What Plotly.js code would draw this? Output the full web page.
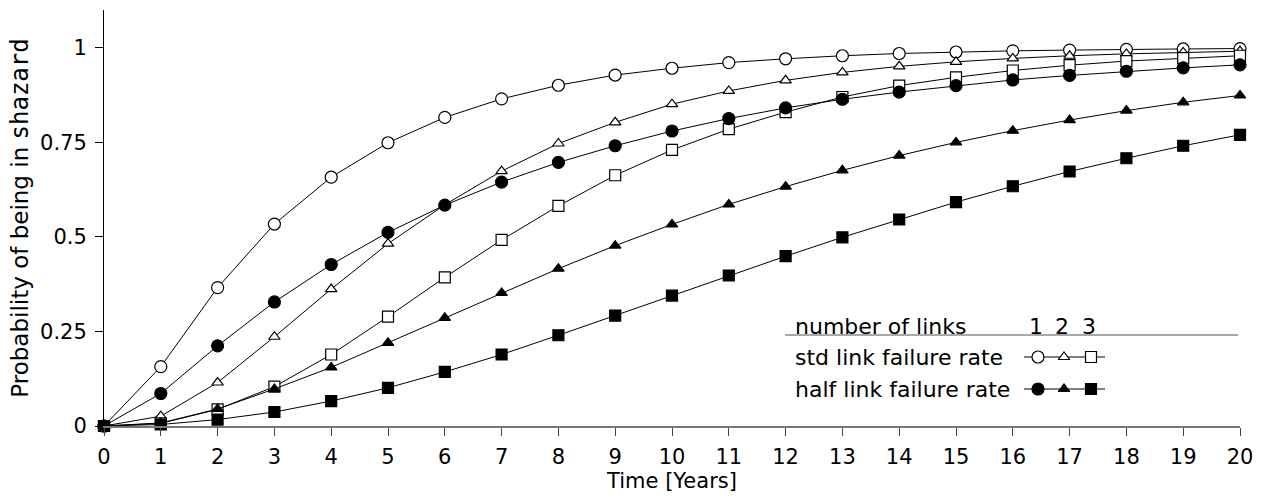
<!DOCTYPE html>
<html>
<head>
<meta charset="utf-8">
<script src="https://cdn.plot.ly/plotly-3.0.1.min.js"></script>
<style>html,body{margin:0;padding:0;background:#fff;}#chart{width:1261px;height:502px;}</style>
</head>
<body>
<div id="chart"></div>
<script>
// ---- data ----
const years = [0,1,2,3,4,5,6,7,8,9,10,11,12,13,14,15,16,17,18,19,20];

const std1  = [0,0.157,0.366,0.534,0.658,0.749,0.816,0.865,0.901,0.928,0.946,0.961,0.971,0.979,0.985,0.989,0.992,0.994,0.996,0.997,0.998];
const std2  = [0,0.026,0.115,0.236,0.362,0.482,0.585,0.674,0.747,0.803,0.851,0.886,0.914,0.935,0.951,0.963,0.972,0.979,0.984,0.988,0.991];
const std3  = [0,0.007,0.044,0.104,0.189,0.289,0.393,0.492,0.582,0.663,0.730,0.785,0.830,0.870,0.900,0.922,0.940,0.954,0.965,0.973,0.979];
const half1 = [0,0.086,0.212,0.328,0.427,0.512,0.584,0.645,0.697,0.741,0.780,0.813,0.841,0.864,0.883,0.900,0.915,0.927,0.938,0.947,0.955];
const half2 = [0,0.008,0.045,0.098,0.155,0.220,0.286,0.352,0.416,0.477,0.533,0.586,0.633,0.676,0.715,0.750,0.781,0.809,0.834,0.856,0.874];
const half3 = [0,0.004,0.017,0.037,0.066,0.101,0.143,0.189,0.240,0.292,0.345,0.398,0.449,0.499,0.546,0.592,0.634,0.673,0.708,0.741,0.770];

const yTickVals  = [0,0.25,0.5,0.75,1];
const yTickText  = ['0','0.25','0.5','0.75','1'];
const xTitle = 'Time [Years]';
const yTitle = 'Probability of being in <span style="font-family:\'DejaVu Sans Mono\',monospace;font-size:24px;">shazard</span>';

const legendHeader = 'number of links';
const legendCounts = ['1','2','3'];
const legendRows   = ['std link failure rate','half link failure rate'];

// ---- styling ----
const FONT = 'DejaVu Sans, sans-serif';
const FS = 21;
const LFS = 22;
const lineStyle = {color:'#000', width:1};
function mk(sym, filled, size){
  return {symbol:sym, size:size, color: filled ? '#000' : '#fff', opacity:1, line:{color:'#000', width:1.2}};
}
const series = [
  {y:std1,  m:mk('circle',false,12)},
  {y:std2,  m:mk('triangle-up',false,10)},
  {y:std3,  m:mk('square',false,11)},
  {y:half1, m:mk('circle',true,12)},
  {y:half2, m:mk('triangle-up',true,10)},
  {y:half3, m:mk('square',true,11)}
];

const traces = series.map(s => ({
  x: years, y: s.y, type:'scatter', mode:'lines+markers',
  line: lineStyle, marker: s.m, cliponaxis:false, showlegend:false, hoverinfo:'skip'
}));

// ---- legend table drawn on an overlay axis (0..1 over the plot area) ----
const PL = 104, PR = 1240, PT = 10, PB = 426;
const fx = px => (px - PL) / (PR - PL);
const fy = py => (PB - py) / (PB - PT);
const symX = [fx(1038), fx(1064), fx(1091)];
const rowY = [fy(357), fy(389)];
const rowSyms = [
  [mk('circle',false,12), mk('triangle-up',false,10), mk('square',false,11)],
  [mk('circle',true,12),  mk('triangle-up',true,10),  mk('square',true,11)]
];
rowY.forEach((yy, r) => {
  traces.push({x:[fx(1024), fx(1105)], y:[yy,yy], xaxis:'x2', yaxis:'y2', type:'scatter', mode:'lines',
    line:lineStyle, showlegend:false, hoverinfo:'skip', cliponaxis:false});
  rowSyms[r].forEach((m, i) => {
    traces.push({x:[symX[i]], y:[yy], xaxis:'x2', yaxis:'y2', type:'scatter', mode:'markers',
      marker:m, showlegend:false, hoverinfo:'skip', cliponaxis:false});
  });
});

const annotations = [];
annotations.push({xref:'x2', yref:'y2', x:fx(793), y:fy(326), text:legendHeader, showarrow:false,
  xanchor:'left', yanchor:'middle', font:{family:FONT, size:LFS, color:'#000'}});
legendCounts.forEach((t,i) => annotations.push({xref:'x2', yref:'y2', x:symX[i]-0.002, y:fy(326), text:t,
  showarrow:false, xanchor:'center', yanchor:'middle', font:{family:FONT, size:LFS, color:'#000'}}));
legendRows.forEach((t,i) => annotations.push({xref:'x2', yref:'y2', x:fx(793), y:rowY[i], text:t,
  showarrow:false, xanchor:'left', yanchor:'middle', font:{family:FONT, size:LFS, color:'#000'}}));

const layout = {
  width:1261, height:502,
  margin:{l:PL, r:1261-PR, t:PT, b:502-PB, pad:0},
  paper_bgcolor:'#fff', plot_bgcolor:'#fff',
  font:{family:FONT, size:FS, color:'#000'},
  xaxis:{range:[0,20], tickmode:'linear', tick0:0, dtick:1, ticks:'outside', ticklen:8, tickwidth:1,
    tickcolor:'#444', showline:true, linecolor:'#777', linewidth:2, showgrid:false, zeroline:false,
    ticklabelstandoff:3, tickfont:{family:FONT, size:FS, color:'#000'},
    title:{text:xTitle, font:{family:FONT, size:FS, color:'#000'}, standoff:3}},
  yaxis:{range:[0,1.1], tickvals:yTickVals, ticktext:yTickText, ticks:'outside', ticklen:8, tickwidth:1,
    tickcolor:'#000', showline:true, linecolor:'#000', linewidth:1, showgrid:false, zeroline:false,
    ticklabelstandoff:4, tickfont:{family:FONT, size:FS, color:'#000'},
    title:{text:yTitle, font:{family:FONT, size:23, color:'#000'}, standoff:4}},
  xaxis2:{overlaying:'x', range:[0,1], visible:false, fixedrange:true},
  yaxis2:{overlaying:'y', range:[0,1], visible:false, fixedrange:true},
  shapes:[{type:'line', xref:'paper', yref:'paper', x0:fx(785), x1:fx(1238), y0:fy(335), y1:fy(335),
    line:{color:'#555', width:1.2}}],
  annotations: annotations,
  showlegend:false
};

Plotly.newPlot('chart', traces, layout, {displayModeBar:false, staticPlot:true});
</script>
</body>
</html>
